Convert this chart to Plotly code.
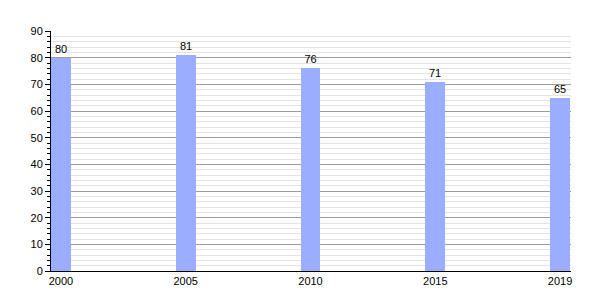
import plotly.graph_objects as go

years = ["2000", "2005", "2010", "2015", "2019"]
values = [80, 81, 76, 71, 65]

idx = list(range(len(years)))
fig = go.Figure()
fig.add_trace(go.Bar(
    x=idx, y=values, width=0.16,
    marker=dict(color="#9aadff", line=dict(width=0)),
    text=[str(v) for v in values], textposition="outside",
    textfont=dict(family="Liberation Sans, Arial", size=11, color="black"),
    cliponaxis=False,
))
fig.update_layout(
    width=600, height=300,
    margin=dict(l=51, r=29, t=31, b=29),
    paper_bgcolor="white", plot_bgcolor="white",
    showlegend=False,
    font=dict(family="Liberation Sans, Arial", size=11, color="black"),
    xaxis=dict(
        range=[-0.08, 4.088], tickmode="array", tickvals=idx, ticktext=years,
        showgrid=False, zeroline=False, showline=True, linecolor="black", linewidth=1,
        ticks="", tickfont=dict(size=11),
    ),
    yaxis=dict(
        range=[0, 90], dtick=10, showgrid=True, gridcolor="#9c9c9c", gridwidth=1,
        zeroline=False, showline=True, linecolor="black", linewidth=1,
        ticks="outside", ticklen=5, tickcolor="black",
        minor=dict(dtick=2, showgrid=True, gridcolor="#e4e4e4", gridwidth=1,
                   ticks="outside", ticklen=3, tickcolor="black"),
        tickfont=dict(size=11),
    ),
    bargap=0,
)
fig.write_html("out.html")
